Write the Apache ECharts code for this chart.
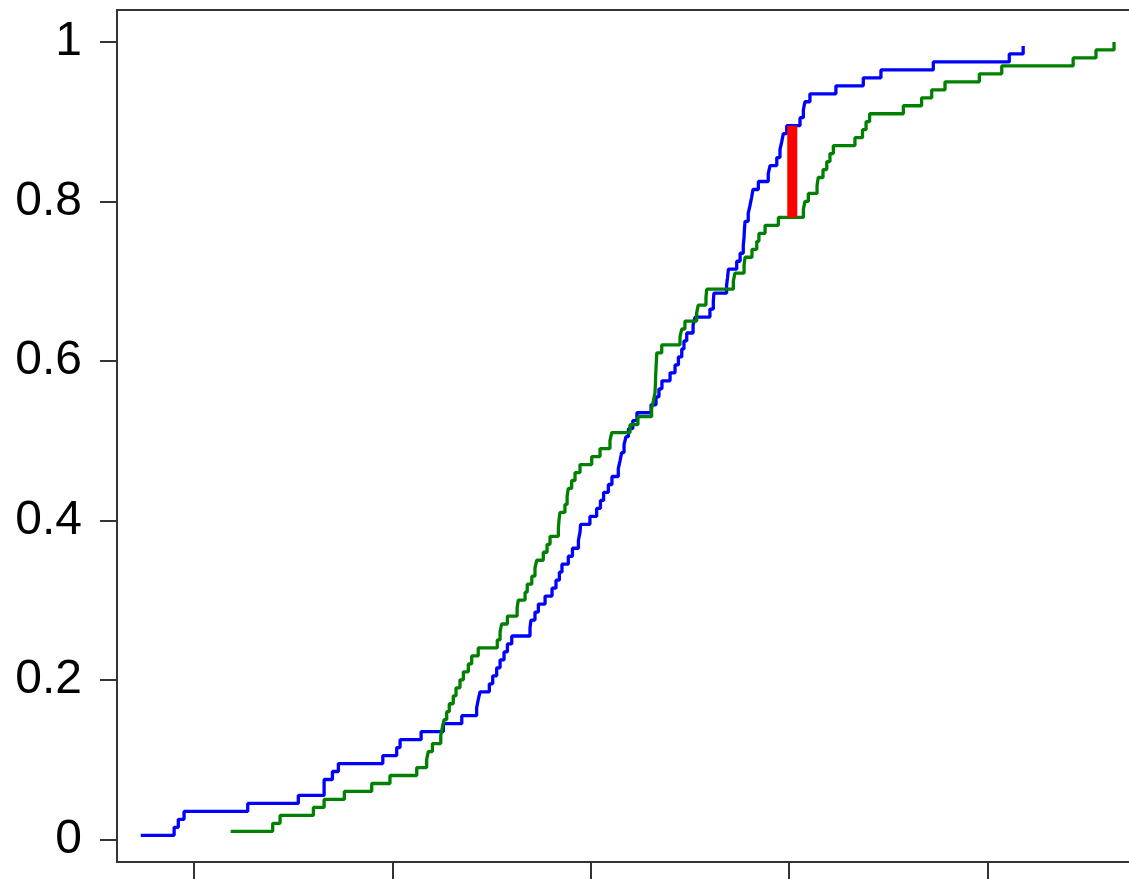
<!DOCTYPE html>
<html>
<head>
<meta charset="utf-8">
<script src="https://cdn.jsdelivr.net/npm/echarts@6/dist/echarts.min.js"></script>
<style>
html,body{margin:0;padding:0;background:#fff;overflow:hidden;}
#chart{width:1180px;height:879px;}
</style>
</head>
<body>
<div id="chart"></div>
<script>
// Blue sample ECDF: jump locations and levels after each jump
const blueX = [-2.268,-2.100,-2.079,-2.050,-1.729,-1.474,-1.344,-1.302,-1.272,-1.048,-0.978,-0.961,-0.855,-0.743,-0.650,-0.575,-0.567,-0.558,-0.511,-0.494,-0.474,-0.457,-0.437,-0.420,-0.398,-0.306,-0.301,-0.281,-0.264,-0.230,-0.195,-0.175,-0.158,-0.145,-0.113,-0.092,-0.062,-0.054,-0.051,-0.004,0.030,0.049,0.065,0.089,0.107,0.139,0.148,0.156,0.168,0.178,0.190,0.212,0.233,0.304,0.329,0.344,0.359,0.400,0.425,0.442,0.459,0.470,0.484,0.516,0.526,0.601,0.618,0.621,0.685,0.690,0.694,0.736,0.753,0.769,0.773,0.775,0.778,0.794,0.803,0.811,0.818,0.845,0.895,0.904,0.938,0.954,0.963,0.971,0.988,1.055,1.072,1.080,1.105,1.236,1.374,1.463,1.727,2.110,2.180];
const blueF = [0.005,0.015,0.025,0.035,0.045,0.055,0.075,0.085,0.095,0.105,0.115,0.125,0.135,0.145,0.155,0.165,0.175,0.185,0.195,0.205,0.215,0.225,0.235,0.245,0.255,0.265,0.275,0.285,0.295,0.305,0.315,0.325,0.335,0.345,0.355,0.365,0.375,0.385,0.395,0.405,0.415,0.425,0.435,0.445,0.455,0.465,0.475,0.485,0.495,0.505,0.515,0.525,0.535,0.545,0.555,0.565,0.575,0.585,0.595,0.605,0.615,0.625,0.635,0.645,0.655,0.665,0.675,0.685,0.695,0.705,0.715,0.725,0.735,0.745,0.755,0.765,0.775,0.785,0.795,0.805,0.815,0.825,0.835,0.845,0.855,0.865,0.875,0.885,0.895,0.905,0.915,0.925,0.935,0.945,0.955,0.965,0.975,0.985,0.995];

// Green sample ECDF
const greenX = [-1.815,-1.603,-1.566,-1.398,-1.344,-1.242,-1.104,-1.012,-0.877,-0.827,-0.819,-0.798,-0.756,-0.748,-0.739,-0.726,-0.713,-0.693,-0.679,-0.659,-0.642,-0.617,-0.600,-0.567,-0.471,-0.457,-0.449,-0.420,-0.371,-0.365,-0.331,-0.320,-0.297,-0.281,-0.272,-0.239,-0.220,-0.205,-0.163,-0.160,-0.155,-0.130,-0.119,-0.113,-0.096,-0.079,-0.054,0.005,0.047,0.097,0.106,0.198,0.238,0.307,0.316,0.324,0.326,0.327,0.329,0.331,0.333,0.358,0.450,0.459,0.475,0.534,0.542,0.581,0.585,0.719,0.727,0.773,0.778,0.813,0.837,0.848,0.879,0.946,1.072,1.080,1.097,1.141,1.147,1.171,1.190,1.206,1.223,1.332,1.370,1.388,1.406,1.576,1.668,1.719,1.786,1.959,2.072,2.432,2.547,2.638];
const greenF = [0.01,0.02,0.03,0.04,0.05,0.06,0.07,0.08,0.09,0.10,0.11,0.12,0.13,0.14,0.15,0.16,0.17,0.18,0.19,0.20,0.21,0.22,0.23,0.24,0.25,0.26,0.27,0.28,0.29,0.30,0.31,0.32,0.33,0.34,0.35,0.36,0.37,0.38,0.39,0.40,0.41,0.42,0.43,0.44,0.45,0.46,0.47,0.48,0.49,0.50,0.51,0.52,0.53,0.54,0.55,0.56,0.57,0.58,0.59,0.60,0.61,0.62,0.63,0.64,0.65,0.66,0.67,0.68,0.69,0.70,0.71,0.72,0.73,0.74,0.75,0.76,0.77,0.78,0.79,0.80,0.81,0.82,0.83,0.84,0.85,0.86,0.87,0.88,0.89,0.90,0.91,0.92,0.93,0.94,0.95,0.96,0.97,0.98,0.99,1.00];

// KS statistic segment
const ksX = [1.016, 1.016];
const ksF = [0.78, 0.895];

// Tick positions
const xTicks = [-2, -1, 0, 1, 2];
const yTicks = [0, 0.2, 0.4, 0.6, 0.8, 1];

function pairs(xs, ys) { return xs.map((x, i) => [x, ys[i]]); }

const chart = echarts.init(document.getElementById('chart'), null, {renderer: 'canvas'});
const axisColor = '#333';
const frameLine = {show: true, onZero: false, lineStyle: {color: axisColor, width: 2}};
chart.setOption({
  animation: false,
  backgroundColor: '#fff',
  grid: {
    left: 117, top: 10, width: 1049, bottom: 17.3, containLabel: false, show: false
  },
  xAxis: [
    {
      type: 'value', position: 'bottom',
      min: -2.388, max: 2.9,
      axisLine: frameLine,
      splitLine: {show: false},
      axisTick: {show: true, customValues: xTicks, length: 20, inside: false,
        lineStyle: {color: axisColor, width: 2}},
      axisLabel: {show: false}
    },
    {
      type: 'value', position: 'top',
      min: -2.388, max: 2.9,
      axisLine: frameLine,
      splitLine: {show: false},
      axisTick: {show: false},
      axisLabel: {show: false}
    }
  ],
  yAxis: {
    type: 'value',
    min: -0.0281, max: 1.0401,
    axisLine: frameLine,
    splitLine: {show: false},
    axisTick: {show: true, customValues: yTicks, length: 17, inside: false,
      lineStyle: {color: axisColor, width: 2}},
    axisLabel: {show: true, customValues: yTicks, margin: 35,
      fontFamily: '"Liberation Sans", Arial, sans-serif', fontSize: 48, color: '#000',
      formatter: v => String(v)}
  },
  series: [
    {
      name: 'blue', type: 'line', step: 'end', showSymbol: false, xAxisIndex: 0,
      data: pairs(blueX, blueF),
      lineStyle: {color: '#0000ff', width: 3.3}, itemStyle: {color: '#0000ff'}, z: 3
    },
    {
      name: 'green', type: 'line', step: 'end', showSymbol: false, xAxisIndex: 0,
      data: pairs(greenX, greenF),
      lineStyle: {color: '#008000', width: 3.3}, itemStyle: {color: '#008000'}, z: 3
    },
    {
      name: 'ks', type: 'line', showSymbol: false, xAxisIndex: 0,
      data: pairs(ksX, ksF),
      lineStyle: {color: '#ff0000', width: 10, cap: 'butt'}, itemStyle: {color: '#ff0000'}, z: 4
    }
  ]
});
</script>
</body>
</html>
